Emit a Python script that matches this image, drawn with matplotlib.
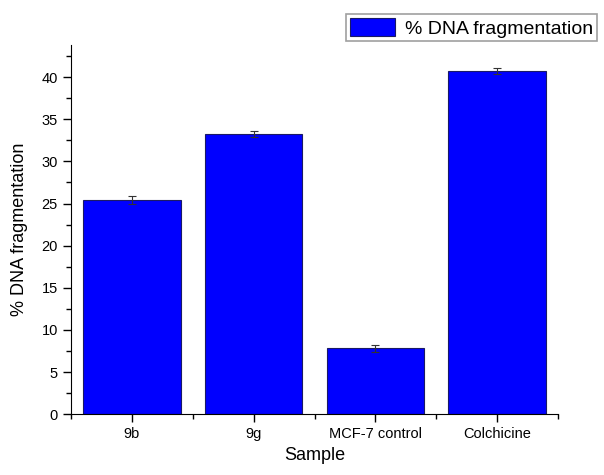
import matplotlib
matplotlib.use("Agg")
import matplotlib.pyplot as plt
from matplotlib.ticker import MultipleLocator, FixedLocator

samples = ["9b", "9g", "MCF-7 control", "Colchicine"]
fragmentation = [25.4, 33.2, 7.8, 40.7]
errors = [0.5, 0.35, 0.4, 0.35]

plt.rcParams['font.family'] = ['Liberation Sans', 'DejaVu Sans']

fig = plt.figure(figsize=(6.04, 4.75), dpi=100)
ax = fig.add_axes([0.1175, 0.128, 0.8065, 0.777])

pos = list(range(1, len(samples) + 1))
ax.bar(pos, fragmentation, width=0.8, color="#0000ff", edgecolor="#1a1a66",
       linewidth=0.8, label="% DNA fragmentation",
       yerr=errors, error_kw=dict(ecolor="#333333", elinewidth=0.8, capsize=3, capthick=0.8))

ax.set_xlim(0.5, len(samples) + 0.5)
ax.set_ylim(0, 43.8)
ax.set_xticks(pos)
ax.set_xticklabels(samples, fontsize=10.5)
ax.xaxis.set_minor_locator(FixedLocator([p + 0.5 for p in range(0, len(samples) + 1)]))
ax.yaxis.set_major_locator(MultipleLocator(5))
ax.yaxis.set_minor_locator(MultipleLocator(2.5))
ax.tick_params(axis='y', labelsize=10.5)
ax.tick_params(which='major', direction='out', length=6, width=1)
ax.tick_params(which='minor', direction='out', length=3.5, width=1)

for s in ['top', 'right']:
    ax.spines[s].set_visible(False)

ax.set_xlabel("Sample", fontsize=13)
ax.set_ylabel("% DNA fragmentation", fontsize=13, labelpad=10)

leg = ax.legend(loc='lower left', bbox_to_anchor=(0.565, 1.01), fontsize=14,
                frameon=True, fancybox=False, borderpad=0.2, handlelength=2.3,
                handleheight=1.0, handletextpad=0.5, borderaxespad=0)
leg.get_frame().set_edgecolor("#888888")
leg.get_frame().set_linewidth(1.2)

fig.savefig("out.png", dpi=100)
